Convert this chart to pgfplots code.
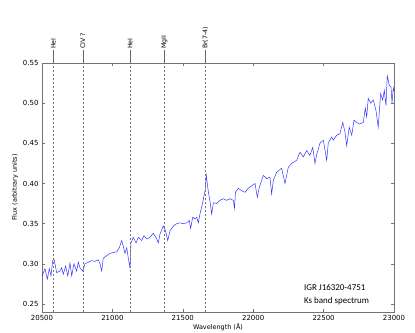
\documentclass[border=0pt]{standalone}
\usepackage{fontspec}
\setmainfont{DejaVu Sans}
\newfontfamily\notefont{Carlito}
\usepackage{pgfplots}
\pgfplotsset{compat=1.18}

\definecolor{frame}{gray}{0.45}
\tikzset{
    linemark/.style={black!55, line width=0.45pt, dash pattern=on 2bp off 2bp},
    linetop/.style={black!60, line width=0.45pt},
    linelab/.style={rotate=90, anchor=west, inner sep=0.8bp, text=black, font=\fontsize{6.3}{7}\selectfont},
}

\pgfplotstableread{
lam flux
20502 0.285
20521 0.294
20538 0.281
20552 0.294
20564 0.285
20576 0.304
20587 0.305
20604 0.289
20628 0.291
20640 0.295
20651 0.287
20668 0.297
20683 0.285
20699 0.301
20711 0.285
20727 0.300
20746 0.291
20758 0.302
20770 0.295
20789 0.291
20805 0.300
20829 0.302
20853 0.304
20876 0.303
20900 0.305
20912 0.300
20924 0.291
20935 0.307
20959 0.310
20983 0.313
21006 0.314
21031 0.315
21049 0.320
21066 0.329
21077 0.322
21089 0.313
21102 0.320
21113 0.307
21125 0.295
21132 0.326
21148 0.333
21168 0.326
21184 0.333
21208 0.329
21224 0.335
21244 0.331
21267 0.333
21290 0.338
21315 0.331
21326 0.326
21338 0.337
21361 0.347
21374 0.343
21393 0.329
21409 0.341
21433 0.347
21457 0.350
21480 0.351
21504 0.350
21528 0.351
21546 0.354
21556 0.344
21570 0.358
21587 0.356
21599 0.358
21610 0.351
21622 0.362
21641 0.376
21658 0.391
21667 0.410
21681 0.390
21693 0.378
21705 0.362
21717 0.376
21741 0.375
21764 0.379
21788 0.381
21812 0.379
21835 0.381
21859 0.379
21867 0.369
21874 0.389
21894 0.394
21918 0.391
21942 0.389
21965 0.394
21989 0.397
22013 0.400
22029 0.383
22043 0.395
22072 0.410
22096 0.406
22119 0.408
22131 0.387
22143 0.404
22167 0.414
22202 0.419
22226 0.400
22249 0.420
22273 0.425
22309 0.429
22332 0.439
22356 0.433
22380 0.441
22403 0.435
22423 0.445
22439 0.425
22451 0.436
22474 0.450
22498 0.454
22522 0.429
22533 0.450
22557 0.458
22569 0.454
22593 0.460
22616 0.462
22636 0.476
22652 0.464
22664 0.447
22682 0.470
22700 0.460
22716 0.479
22735 0.476
22753 0.474
22782 0.476
22796 0.494
22806 0.483
22817 0.506
22834 0.500
22853 0.504
22872 0.491
22888 0.470
22905 0.512
22920 0.504
22931 0.516
22943 0.497
22952 0.534
22967 0.522
22979 0.520
22986 0.500
22995 0.519
23000 0.515
}\spectrum

\begin{document}
\begin{tikzpicture}
\useasboundingbox (-42bp,-21bp) rectangle (373bp,312bp);
\begin{axis}[
    at={(0,0)}, anchor=south west,
    scale only axis,
    width=352bp, height=249bp,
    xmin=20500, xmax=23000,
    ymin=0.24, ymax=0.55,
    xtick={20500,21000,...,23000},
    ytick={0.25,0.30,...,0.55},
    tick align=inside,
    major tick length=3bp,
    tick style={frame, line width=0.4pt},
    axis line style={frame, line width=0.6pt},
    ticklabel style={font=\fontsize{7}{8}\selectfont},
    /pgf/number format/assume math mode=true,
    scaled x ticks=false,
    x tick label style={/pgf/number format/.cd, set thousands separator={}, fixed},
    y tick label style={/pgf/number format/.cd, fixed, fixed zerofill, precision=2},
    xlabel={Wavelength (Å)},
    ylabel={Flux (arbitrary units)},
    label style={font=\fontsize{6.5}{7}\selectfont},
    xlabel style={yshift=4bp},
    ylabel style={yshift=-2bp},
    clip=false,
]
\addplot[blue, line width=0.5pt, opacity=0.8] table[x=lam, y=flux] {\spectrum};

\draw[linemark] (axis cs:20581,0.24) -- (axis cs:20581,0.55);
\draw[linetop] (axis cs:20581,0.55) -- ([yshift=13bp]axis cs:20581,0.55) node[linelab] {HeI};
\draw[linemark] (axis cs:20790,0.24) -- (axis cs:20790,0.55);
\draw[linetop] (axis cs:20790,0.55) -- ([yshift=13bp]axis cs:20790,0.55) node[linelab] {CIV ?};
\draw[linemark] (axis cs:21126,0.24) -- (axis cs:21126,0.55);
\draw[linetop] (axis cs:21126,0.55) -- ([yshift=13bp]axis cs:21126,0.55) node[linelab] {HeI};
\draw[linemark] (axis cs:21370,0.24) -- (axis cs:21370,0.55);
\draw[linetop] (axis cs:21370,0.55) -- ([yshift=13bp]axis cs:21370,0.55) node[linelab] {MgII};
\draw[linemark] (axis cs:21661,0.24) -- (axis cs:21661,0.55);
\draw[linetop] (axis cs:21661,0.55) -- ([yshift=13bp]axis cs:21661,0.55) node[linelab] {Br(7-4)};

\node[anchor=south west, align=left, inner sep=0pt, font=\notefont\fontsize{9}{13}\selectfont]
  at (axis cs:22360,0.2485) {IGR J16320-4751\\Ks band spectrum};
\end{axis}
\end{tikzpicture}
\end{document}
